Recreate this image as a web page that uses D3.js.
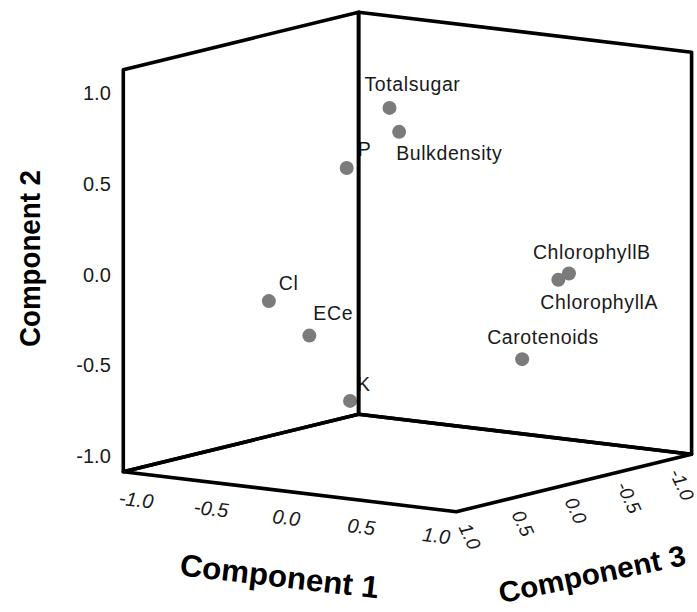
<!DOCTYPE html>
<html>
<head>
<meta charset="utf-8">
<script src="https://cdn.jsdelivr.net/npm/d3@7"></script>
<style>
  html, body { margin: 0; padding: 0; background: #fff; }
  svg { display: block; font-family: "Liberation Sans", Arial, sans-serif; }
</style>
</head>
<body>
<div id="chart"></div>
<script>
// data: loadings (component 1, 2, 3)
const variables = ["Totalsugar", "Bulkdensity", "P", "Cl", "ECe", "K", "ChlorophyllB", "ChlorophyllA", "Carotenoids"];
const comp1 = [0.05, 0.10, -0.20, -0.50, -0.35, -0.10, 0.90, 0.90, 0.80];
const comp2 = [0.89, 0.76, 0.54, -0.18, -0.38, -0.72, -0.01, -0.03, -0.45];
const comp3 = [0.24, 0.22, 0.29, 0.60, 0.43, 0.40, -0.25, -0.15, 0.05];

const tickValues = [-1.0, -0.5, 0.0, 0.5, 1.0];
const tickLabels = ["-1.0", "-0.5", "0.0", "0.5", "1.0"];

// label placement next to each dot (left edge / baseline offsets)
const labelOffset = {
  Totalsugar: [-25, -17], Bulkdensity: [-3, 28], P: [11, -12], Cl: [10, -11],
  ECe: [4, -16], K: [7, -10], ChlorophyllB: [-36, -15], ChlorophyllA: [-18, 29],
  Carotenoids: [-35, -15]
};

const width = 697, height = 612;
const R = 1.11; // axis range is a bit wider than +-1

// box layout: screen point of (c1=-R, c2=-R, c3=+R) plus the span of each axis
const corner = [123.3, 471.7];
const spanX = [333, 40];
const spanY = [0, -402];
const spanZ = [235.3, -57.5];

const s1 = d3.scaleLinear().domain([-R, R]).range([0, 1]);
const s2 = d3.scaleLinear().domain([-R, R]).range([0, 1]);
const s3 = d3.scaleLinear().domain([R, -R]).range([0, 1]);

function project(a, b, c) {
  const u = s1(a), v = s2(b), w = s3(c);
  return [
    corner[0] + u * spanX[0] + v * spanY[0] + w * spanZ[0],
    corner[1] + u * spanX[1] + v * spanY[1] + w * spanZ[1]
  ];
}

const svg = d3.select("#chart")
    .append("svg")
    .attr("width", width)
    .attr("height", height);

svg.append("rect").attr("width", width).attr("height", height).attr("fill", "#fff");

const line = d3.line();

// dots
const points = variables.map((name, i) => ({ name, p: project(comp1[i], comp2[i], comp3[i]) }));

svg.append("g").selectAll("circle")
  .data(points)
  .join("circle")
    .attr("cx", d => d.p[0])
    .attr("cy", d => d.p[1])
    .attr("r", 7)
    .attr("fill", "#7b7b7b");

svg.append("g").selectAll("text")
  .data(points)
  .join("text")
    .attr("x", d => d.p[0] + labelOffset[d.name][0])
    .attr("y", d => d.p[1] + labelOffset[d.name][1])
    .attr("font-size", 19.5)
    .attr("letter-spacing", 0.6)
    .attr("fill", "#1a1a1a")
    .text(d => d.name);

// the three back walls
const walls = [
  [[-R, -R, R], [-R, R, R], [-R, R, -R], [-R, -R, -R]],
  [[-R, -R, -R], [-R, R, -R], [R, R, -R], [R, -R, -R]],
  [[-R, -R, R], [-R, -R, -R], [R, -R, -R], [R, -R, R]]
];

svg.append("g").selectAll("path")
  .data(walls)
  .join("path")
    .attr("d", d => line(d.map(c => project(...c))) + "Z")
    .attr("fill", "none")
    .attr("stroke", "#000")
    .attr("stroke-width", 3.6)
    .attr("stroke-linejoin", "round");

// component 2 ticks (vertical, front-left edge)
svg.append("g").selectAll("text")
  .data(tickValues)
  .join("text")
    .attr("x", d => project(-R, d, R)[0] - 12.5)
    .attr("y", d => project(-R, d, R)[1] + 3.8)
    .attr("dy", "0.35em")
    .attr("text-anchor", "end")
    .attr("font-size", 20)
    .attr("fill", "#1a1a1a")
    .text((d, i) => tickLabels[i]);

// component 1 ticks (front floor edge)
svg.append("g").selectAll("text")
  .data(tickValues)
  .join("text")
    .attr("transform", d => {
      const p = project(d, -R, R);
      return `translate(${p[0] - 3.5},${p[1] + 26}) rotate(6.8)`;
    })
    .attr("dy", "0.35em")
    .attr("text-anchor", "middle")
    .attr("font-size", 20)
    .attr("font-style", "italic")
    .attr("fill", "#1a1a1a")
    .text((d, i) => tickLabels[i]);

// component 3 ticks (right floor edge)
svg.append("g").selectAll("text")
  .data(tickValues)
  .join("text")
    .attr("transform", d => {
      const p = project(R, -R, d);
      return `translate(${p[0] + 2},${p[1] + 27.5}) rotate(65)`;
    })
    .attr("dy", "0.35em")
    .attr("text-anchor", "middle")
    .attr("font-size", 19)
    .attr("font-style", "italic")
    .attr("fill", "#1a1a1a")
    .text((d, i) => tickLabels[i]);

// axis titles
const titles = [
  { text: "Component 2", x: 30, y: 258.5, angle: -90, len: 177, size: 29 },
  { text: "Component 1", x: 279.5, y: 576, angle: 6.6, len: 200, size: 31 },
  { text: "Component 3", x: 592, y: 574, angle: -11.7, len: 190, size: 29 }
];

svg.append("g").selectAll("text")
  .data(titles)
  .join("text")
    .attr("transform", d => `translate(${d.x},${d.y}) rotate(${d.angle})`)
    .attr("dy", "0.35em")
    .attr("text-anchor", "middle")
    .attr("font-size", d => d.size)
    .attr("font-weight", "bold")
    .attr("textLength", d => d.len)
    .attr("lengthAdjust", "spacingAndGlyphs")
    .attr("fill", "#000")
    .text(d => d.text);
</script>
</body>
</html>
